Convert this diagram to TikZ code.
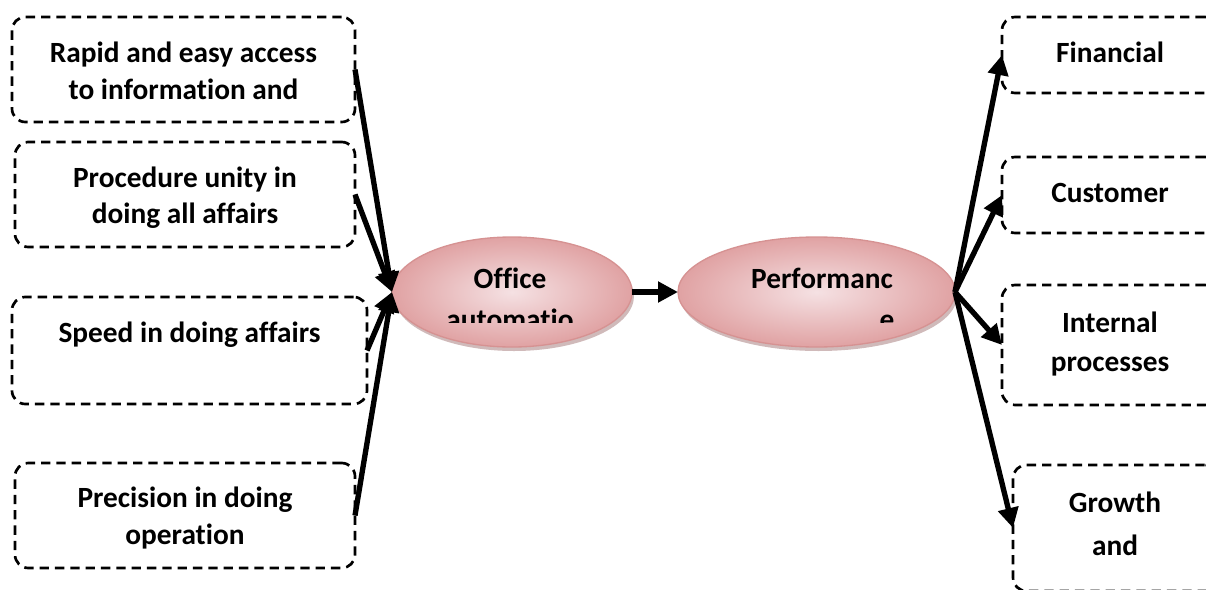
\documentclass[tikz,border=0pt]{standalone}
\usepackage{fontspec}
\setmainfont{Carlito}[Ligatures=NoCommon]
\usetikzlibrary{arrows.meta,shapes.geometric,shadows}
\definecolor{ellin}{RGB}{245,225,227}
\definecolor{ellout}{RGB}{224,162,163}
\definecolor{elldraw}{RGB}{214,146,146}
\definecolor{ellshadow}{RGB}{170,130,130}
\tikzset{
  dbox/.style={draw, line width=2pt, dash pattern=on 7pt off 4.5pt,
    rounded corners=10pt, inner sep=0pt, outer sep=0pt},
  ell/.style={ellipse, draw=elldraw, line width=1pt, inner sep=0pt, outer sep=0pt,
    shading=radial, inner color=ellin, outer color=ellout,
    drop shadow={shadow xshift=1.5pt, shadow yshift=-3pt, fill=ellshadow, opacity=0.55}},
  txt/.style={font=\bfseries\fontsize{22}{27}\selectfont, anchor=base, inner sep=0pt},
  arr/.style={line width=4pt, -{Triangle[length=15pt,width=15pt]}}
}
\begin{document}
\begin{tikzpicture}[x=0.75pt,y=-0.75pt]
\useasboundingbox (0,0) rectangle (1206,589);
\clip (0,0) rectangle (1206,589);
\fill[white] (0,0) rectangle (1206,589);

% left boxes
\node[dbox, minimum width=257.25pt, minimum height=78.75pt] (b1) at (183.5,69.5) {};
\node[dbox, minimum width=255pt, minimum height=78.75pt] (b2) at (185,194.5) {};
\node[dbox, minimum width=266.25pt, minimum height=80.25pt] (b3) at (189.5,350.5) {};
\node[dbox, minimum width=255pt, minimum height=78.75pt] (b4) at (185,515.5) {};

\node[txt] (t1a) at (183.5,62) {Rapid and easy access};
\node[txt] (t1b) at (183.5,99) {to information and};
\node[txt] (t2a) at (185,187) {Procedure unity in};
\node[txt] (t2b) at (185,223) {doing all affairs};
\node[txt] (t3a) at (189.5,342) {Speed in doing affairs};
\node[txt] (t4a) at (185,507) {Precision in doing};
\node[txt] (t4b) at (185,544) {operation};

% right boxes
\node[dbox, minimum width=162pt, minimum height=57pt] (fin) at (1110,55) {};
\node[dbox, minimum width=162pt, minimum height=57pt] (cus) at (1110,195) {};
\node[dbox, minimum width=162pt, minimum height=90pt] (int) at (1110,345) {};
\node[dbox, minimum width=153.75pt, minimum height=94.5pt] (gro) at (1115.5,528) {};

\node[txt] (tf) at (1110,62) {Financial};
\node[txt] (tc) at (1110,202) {Customer};
\node[txt] (tia) at (1110,332) {Internal};
\node[txt] (tib) at (1110,371) {processes};
\node[txt] (tga) at (1115,512) {Growth};
\node[txt] (tgb) at (1115,555) {and};

% ellipses
\node[ell, minimum width=180pt, minimum height=82.5pt] (off) at (512,292) {};
\node[ell, minimum width=207.75pt, minimum height=82.5pt] (perf) at (816.5,292) {};

\begin{scope}
\clip (390,240) rectangle (960,322);
\node[txt] (to1) at (510,288) {Office};
\node[txt] (to2) at (510,329) {automatio};
\node[txt] (tp1) at (822,288) {Performanc};
\node[txt] (tp2) at (887,329) {e};
\end{scope}

% connectors
\draw[arr] (b1.east) -- (off.west);
\draw[arr] (b2.east) -- (off.west);
\draw[arr] (b3.east) -- (off.west);
\draw[arr] (b4.east) -- (off.west);
\draw[arr] (off.east) -- (perf.west);
\draw[arr] (perf.east) -- (fin.west);
\draw[arr] (perf.east) -- (cus.west);
\draw[arr] (perf.east) -- (int.west);
\draw[arr] (perf.east) -- (gro.west);
\end{tikzpicture}
\end{document}
